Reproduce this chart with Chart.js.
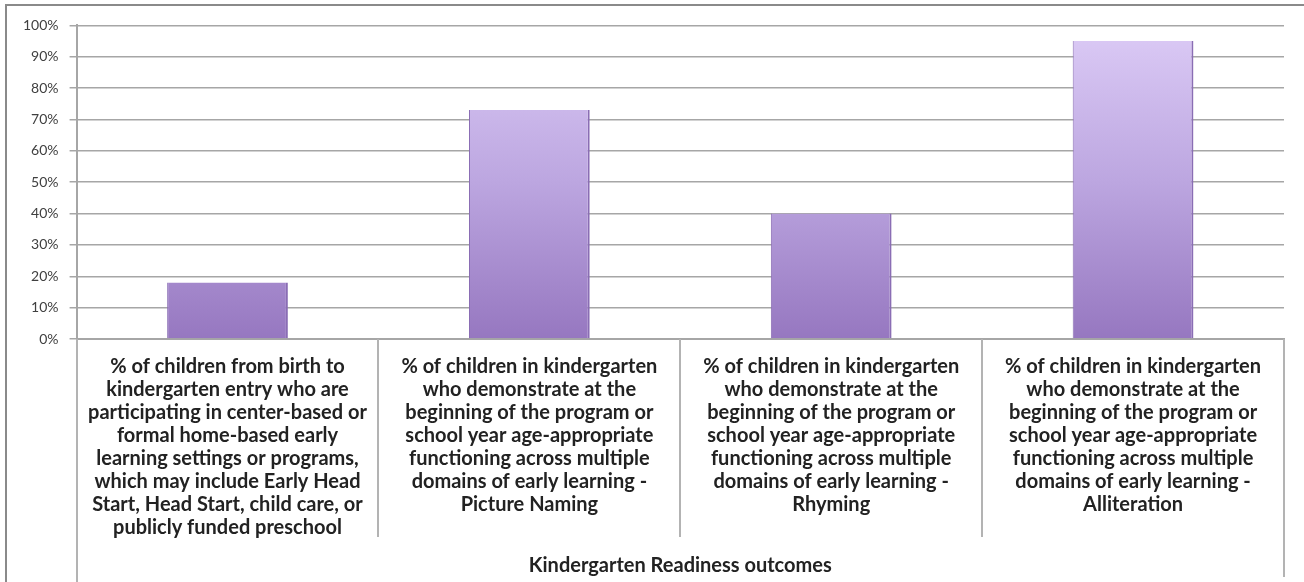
<!DOCTYPE html>
<html lang="en">
<head>
	<meta charset="UTF-8">
	<title>Kindergarten Readiness outcomes</title>
	<style>
	* { margin: 0; padding: 0; box-sizing: border-box; }
	body { background: #fff; }
	.chartbox {
		position: absolute;
		left: 5px; top: 4px;
		width: 1299px; height: 578px;
		border-top: 2px solid #8a8a8a;
		border-left: 2px solid #8a8a8a;
	}
	</style>
</head>
<body>
	<div class="chartbox">
		<canvas id="myChart"></canvas>
	</div>

<script src="https://cdn.jsdelivr.net/npm/chart.js"></script>

<script>
	// data
	const categories = [
		['% of children from birth to', 'kindergarten entry who are', 'participating in center-based or', 'formal home-based early', 'learning settings or programs,', 'which may include Early Head', 'Start, Head Start, child care, or', 'publicly funded preschool'],
		['% of children in kindergarten', 'who demonstrate at the', 'beginning of the program or', 'school year age-appropriate', 'functioning across multiple', 'domains of early learning -', 'Picture Naming'],
		['% of children in kindergarten', 'who demonstrate at the', 'beginning of the program or', 'school year age-appropriate', 'functioning across multiple', 'domains of early learning -', 'Rhyming'],
		['% of children in kindergarten', 'who demonstrate at the', 'beginning of the program or', 'school year age-appropriate', 'functioning across multiple', 'domains of early learning -', 'Alliteration']
	];
	const outcomeValues = [18, 73, 40, 95];
	const groupTitle = 'Kindergarten Readiness outcomes';
	const yTicks = [0, 10, 20, 30, 40, 50, 60, 70, 80, 90, 100];

	const gridColor = '#a6a6a6';

	// bar fill: light lavender on top, darker purple at the base
	function barFill(ctx) {
		const chart = ctx.chart;
		const area = chart.chartArea;
		if (!area) return '#b9a0dc';
		const g = chart.ctx.createLinearGradient(0, area.top, 0, area.bottom);
		g.addColorStop(0, '#dccbf6');
		g.addColorStop(0.5, '#bca6e0');
		g.addColorStop(1, '#9677c0');
		return g;
	}

	// category dividers below the axis + outer group lines
	const dividers = {
		id: 'dividers',
		afterDraw(chart) {
			const x = chart.scales.x;
			const ctx = chart.ctx;
			const top = chart.chartArea.bottom;
			const h = chart.height;
			ctx.save();
			ctx.strokeStyle = '#b3b3b3';
			ctx.lineWidth = 2;
			for (let i = 0; i <= categories.length; i++) {
				const px = Math.round(x.getPixelForValue(i - 0.5));
				let bottom = top + 198;
				if (i === 0) bottom = h;
				if (i === categories.length) bottom = h - 5;
				ctx.beginPath();
				ctx.moveTo(px, top);
				ctx.lineTo(px, bottom);
				ctx.stroke();
			}
			ctx.restore();
		}
	};

	const data = {
		labels: categories,
		datasets: [{
			label: 'Kindergarten Readiness',
			data: outcomeValues,
			backgroundColor: barFill,
			borderColor: '#8a6db4',
			borderWidth: { left: 1, right: 2, top: 0, bottom: 0 },
			categoryPercentage: 1.0,
			barPercentage: 0.4
		}]
	};

	const config = {
		type: 'bar',
		data,
		plugins: [dividers],
		options: {
			responsive: false,
			animation: false,
			layout: { padding: { left: 5, right: 20, top: 18, bottom: 4 } },
			plugins: {
				legend: { display: false },
				tooltip: { enabled: false }
			},
			scales: {
				x: {
					grid: { display: false },
					border: { display: true, color: gridColor, width: 2 },
					ticks: {
						autoSkip: false,
						maxRotation: 0,
						minRotation: 0,
						padding: 8,
						color: '#222',
						font: { family: 'Lato', size: 20, weight: 'bold', lineHeight: 1.15 }
					},
					title: {
						display: true,
						text: groupTitle,
						color: '#222',
						padding: { top: 7, bottom: 0 },
						font: { family: 'Lato', size: 20, weight: 'bold' }
					}
				},
				y: {
					min: 0,
					max: 100,
					afterBuildTicks(axis) { axis.ticks = yTicks.map(v => ({ value: v })); },
					grid: { color: gridColor, lineWidth: 1.5, tickLength: 7 },
					border: { display: true, color: gridColor, width: 2 },
					ticks: {
						padding: 11,
						color: '#404040',
						font: { family: 'Lato', size: 14 },
						callback: v => v + '%'
					}
				}
			}
		}
	};

	const canvas = document.getElementById('myChart');
	canvas.width = 1297;
	canvas.height = 576;
	const myChart = new Chart(canvas, config);
</script>
</body>
</html>
